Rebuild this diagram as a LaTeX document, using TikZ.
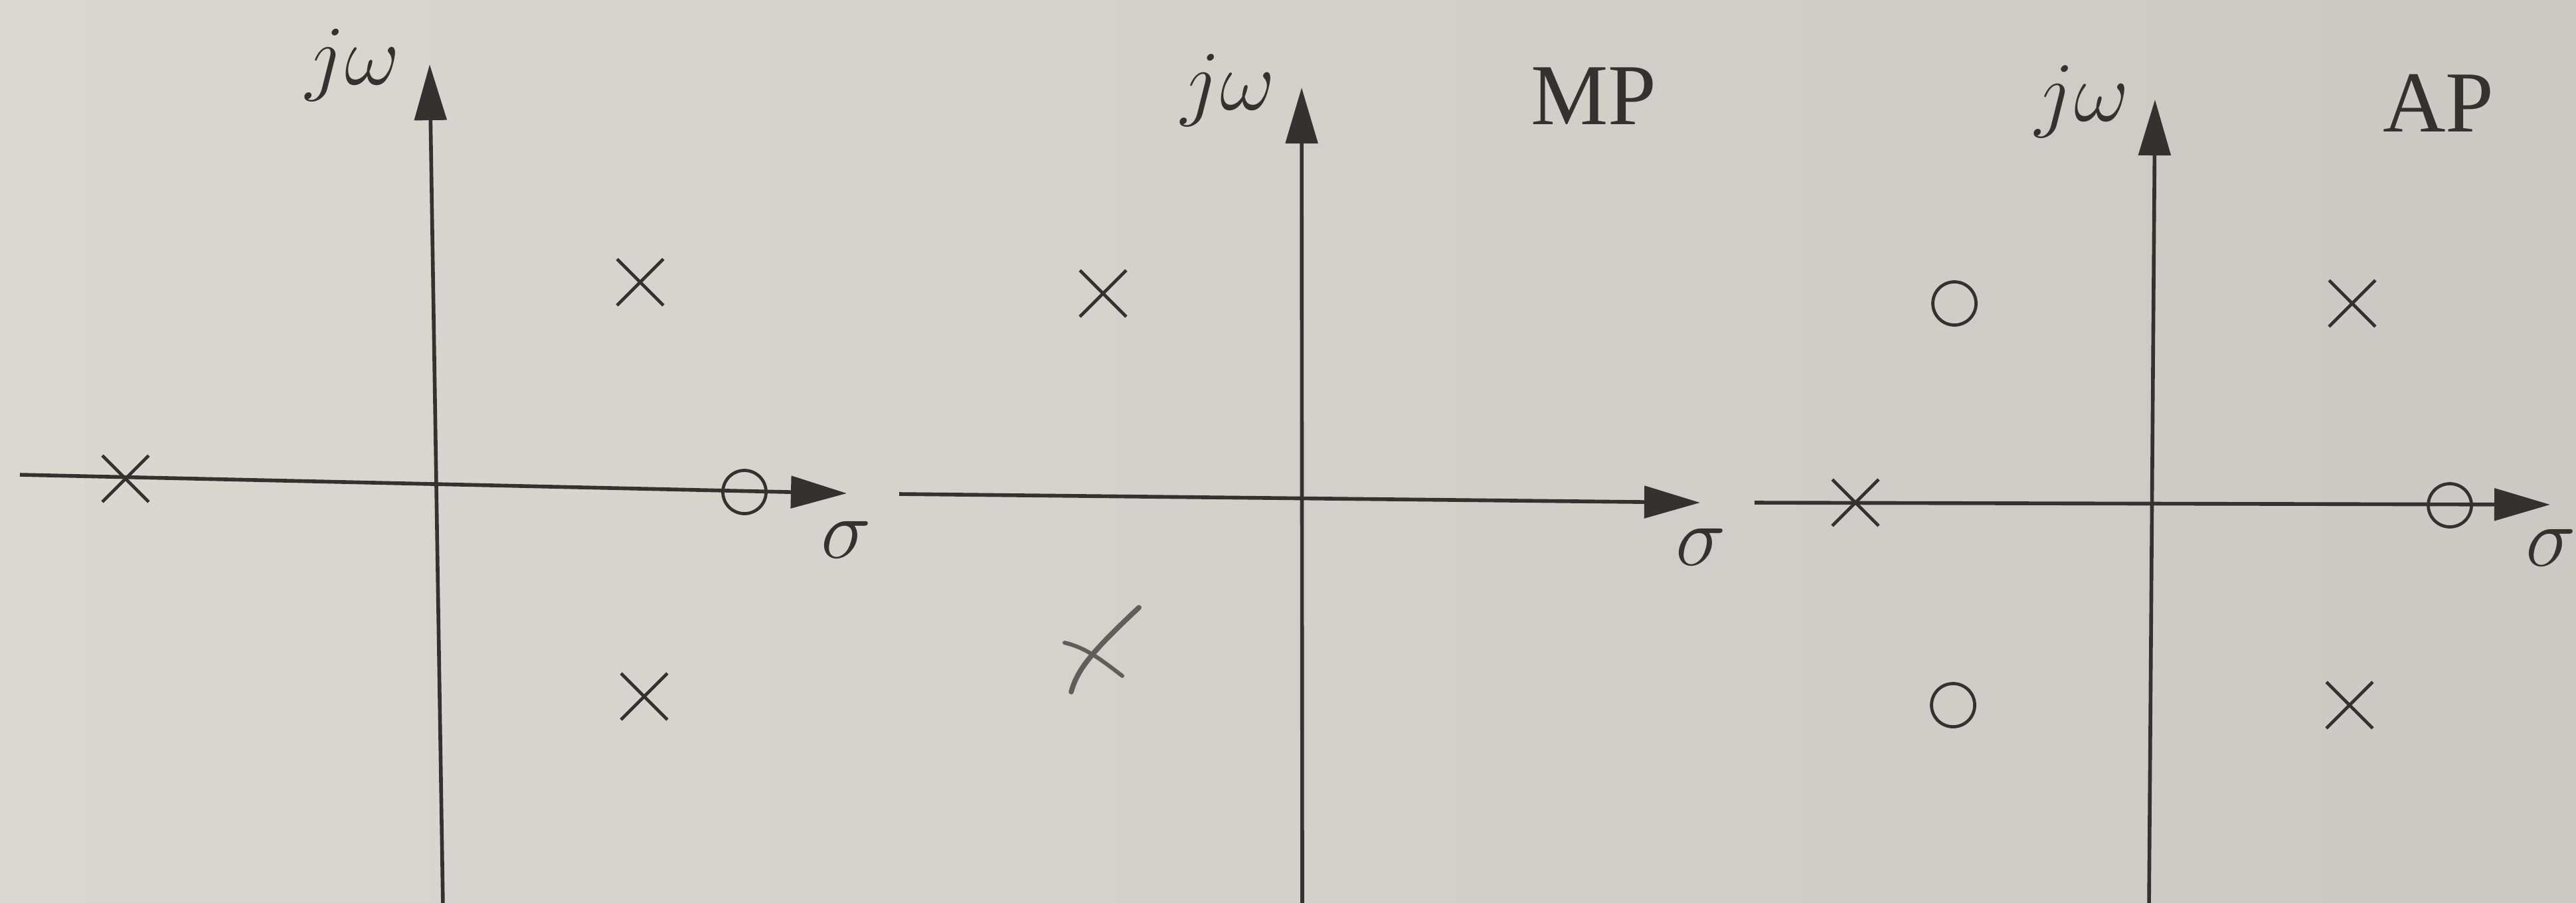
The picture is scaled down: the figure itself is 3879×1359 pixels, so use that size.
\documentclass[tikz,border=0pt]{standalone}
\usepackage{fontspec}
\newfontfamily\tnr{Liberation Serif}
\usetikzlibrary{arrows.meta,shapes.misc}
\definecolor{paperL}{RGB}{219,215,209}
\definecolor{paperR}{RGB}{204,200,195}
\definecolor{ink}{RGB}{52,50,49}
\definecolor{pencil}{RGB}{96,93,91}
\begin{document}
\begin{tikzpicture}[x=0.01cm,y=-0.01cm,
  axis/.style={draw=ink,line width=1.6pt,-{Triangle[length=0.84cm,width=0.48cm]}},
  pole/.style={cross out,draw=ink,line width=1.35pt,minimum size=0.65cm,inner sep=0pt},
  zero/.style={circle,draw=ink,line width=1.35pt,minimum size=0.65cm,inner sep=0pt},
  lbl/.style={text=ink,anchor=base,font=\Huge,scale=1.46,transform shape,inner sep=0pt},
  tag/.style={text=ink,anchor=base,font=\tnr\fontsize{37.2}{44}\selectfont,inner sep=0pt}]
\shade[left color=paperL,right color=paperR] (0,0) rectangle (3879,1359);
\useasboundingbox (0,0) rectangle (3879,1359);

% ---------- panel 1 ----------
\coordinate (h1s) at (30,715);
\coordinate (h1e) at (1275,743);
\coordinate (v1s) at (667,1365);
\coordinate (v1e) at (647,97);
\draw[axis] (h1s) -- (h1e);
\draw[axis] (v1s) -- (v1e);
\node[pole] (p1a) at (189,721) {};
\node[zero] (z1a) at (1121,741) {};
\node[pole] (p1b) at (964,425) {};
\node[pole] (p1c) at (970,1049) {};
\node[lbl] (jw1) at (531,127) {$j\omega$};
\node[lbl] (s1) at (1274,840) {$\sigma$};

% ---------- panel 2 ----------
\coordinate (h2s) at (1354,744);
\coordinate (h2e) at (2560,757);
\coordinate (v2s) at (1961,1365);
\coordinate (v2e) at (1960,132);
\draw[axis] (h2s) -- (h2e);
\draw[axis] (v2s) -- (v2e);
\node[pole] (p2a) at (1661,442) {};
\draw[pencil,line width=2.2pt,line cap=round] (1613,1042) .. controls (1622,1010) and (1640,985) .. (1715,915);
\draw[pencil,line width=1.7pt,line cap=round] (1603,968) .. controls (1635,975) and (1660,995) .. (1690,1018);
\node[lbl] (jw2) at (1849,165) {$j\omega$};
\node[tag] (mp) at (2400,187) {MP};
\node[lbl] (s2) at (2561,851) {$\sigma$};

% ---------- panel 3 ----------
\coordinate (h3s) at (2642,757);
\coordinate (h3e) at (3840,760);
\coordinate (v3s) at (3236,1365);
\coordinate (v3e) at (3245,150);
\draw[axis] (h3s) -- (h3e);
\draw[axis] (v3s) -- (v3e);
\node[pole] (p3a) at (2794,757) {};
\node[zero] (z3a) at (3689,761) {};
\node[zero] (z3b) at (2943,457) {};
\node[zero] (z3c) at (2941,1062) {};
\node[pole] (p3b) at (3542,457) {};
\node[pole] (p3c) at (3538,1062) {};
\node[lbl] (jw3) at (3135,182) {$j\omega$};
\node[tag] (ap) at (3672,198) {AP};
\node[lbl] (s3) at (3841,852) {$\sigma$};
\end{tikzpicture}
\end{document}
